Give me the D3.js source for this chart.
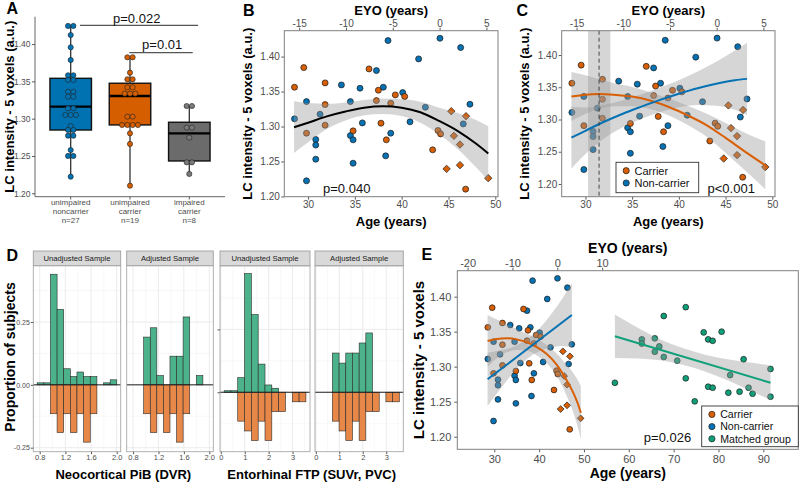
<!DOCTYPE html>
<html><head><meta charset="utf-8">
<script src="https://cdn.jsdelivr.net/npm/d3@7"></script>
<style>html,body{margin:0;padding:0;background:#fff;}svg{display:block;}</style>
</head><body>
<svg id="chart" width="800" height="485" xmlns="http://www.w3.org/2000/svg"></svg>
<script>
const FONT = '"Liberation Sans", Arial, Helvetica, sans-serif';
// ================= DATA =================
// Panel A (box plots + dot plot)
const aGroups = ["unimpaired noncarrier", "unimpaired carrier", "impaired carrier"];
const aLabelLines = [["unimpaired","noncarrier","n=27"],["unimpaired","carrier","n=19"],["impaired","carrier","n=8"]];
const aQ1 = [1.2848, 1.2916, 1.2433];
const aMedian = [1.3161, 1.3304, 1.2804];
const aQ3 = [1.3541, 1.3475, 1.2952];
const aWhiskerLow = [1.2223, 1.2102, 1.2259];
const aWhiskerHigh = [1.4243, 1.3823, 1.3170];
const aDotsNoncarrier = [1.4243,1.4243,1.4122,1.3957,1.3787,1.3582,1.3582,1.3519,1.3519,1.3362,1.3362,1.3295,1.3295,1.3139,1.3139,1.3050,1.3050,1.3050,1.2902,1.2849,1.2849,1.2772,1.2772,1.2580,1.2500,1.2500,1.2223];
const aDotsCarrier = [1.3823,1.3823,1.3617,1.3528,1.3528,1.3420,1.3420,1.3336,1.3336,1.3336,1.3027,1.3027,1.2916,1.2916,1.2916,1.2916,1.2804,1.2661,1.2102];
const aDotsImpaired = [1.3170,1.3170,1.2880,1.2880,1.2746,1.2415,1.2415,1.2259];
const aPLabels = ["p=0.022", "p=0.01"];

// Individuals (panels B, C, E)
const carrierAge = [28.55,29.54,29.83,31.82,31.82,31.82,34.81,36.51,37.30,37.51,37.79,38.36,38.83,39.32,40.32,43.31,43.88,44.16,46.83,44.80,45.30,45.58,46.23,46.23,46.87,49.25];
const carrierLC  = [1.3562,1.3843,1.2905,1.3624,1.3314,1.3019,1.2938,1.3824,1.3371,1.3519,1.3048,1.2810,1.3333,1.3452,1.3429,1.2667,1.2943,1.2895,1.2105,1.2395,1.3219,1.2867,1.2743,1.2448,1.3148,1.2262];
const carrierImpaired = [0,0,0,0,0,0,0,0,0,0,0,0,0,0,0,0,0,0,0,1,1,1,1,1,1,1];
const nonAge = [28.55,29.83,29.83,30.82,30.82,30.82,31.28,33.56,34.52,34.52,34.81,34.81,35.55,35.80,37.30,38.04,38.29,38.54,38.83,40.11,40.89,41.81,42.53,44.09,46.30,46.58,47.29];
const nonLC  = [1.3110,1.3357,1.2224,1.2815,1.2735,1.2533,1.3176,1.3595,1.3357,1.2871,1.2810,1.2476,1.3548,1.3052,1.3800,1.3562,1.2581,1.4229,1.2905,1.3486,1.3067,1.3967,1.3276,1.4262,1.4129,1.3038,1.3319];
const matchedAge = [56.9,62.9,62.9,65.8,65.8,66.8,67.8,67.8,70.8,72.7,72.7,74.7,76.7,77.7,78.7,80.7,77.7,78.7,82.2,82.6,84.7,85.6,86.7,87.6,91.6,91.6];
const matchedLC  = [1.277,1.339,1.333,1.3405,1.3214,1.329,1.3724,1.3139,1.3086,1.385,1.2834,1.2505,1.349,1.339,1.337,1.350,1.2714,1.270,1.2629,1.288,1.2643,1.3106,1.270,1.2614,1.2967,1.2571];

// Fitted curves
const bFitAge = [28.5,30,32,34,36,38,40,42,44,46,48,49.25];
const bFitLC  = [1.299,1.3055,1.3145,1.3215,1.327,1.329,1.327,1.3205,1.308,1.2935,1.275,1.2615];
const bFitLo  = [1.262,1.2775,1.2965,1.3085,1.316,1.318,1.315,1.3055,1.289,1.2675,1.241,1.2225];
const bFitHi  = [1.336,1.3335,1.3325,1.3345,1.338,1.340,1.339,1.3355,1.327,1.3195,1.309,1.3005];

const cCarAge = [28.5,30,31.5,33,35,37,39,41,43,45,47,49.25];
const cCarLC  = [1.3355,1.3385,1.3395,1.3385,1.3355,1.329,1.319,1.306,1.291,1.2715,1.251,1.229];
const cCarLo  = [1.2975,1.3085,1.3165,1.3205,1.3205,1.316,1.306,1.291,1.273,1.2485,1.222,1.192];
const cCarHi  = [1.3735,1.3685,1.3625,1.3565,1.3505,1.342,1.332,1.321,1.309,1.2945,1.280,1.266];
const cNonAge = [28.5,30,32,34,36,38,40,42,44,46,47.3];
const cNonLC  = [1.2718,1.2825,1.2965,1.309,1.32,1.3305,1.340,1.3485,1.3555,1.361,1.363];
const cNonLo  = [1.2238,1.2465,1.2705,1.288,1.301,1.3115,1.319,1.3225,1.3215,1.315,1.307];
const cNonHi  = [1.3198,1.3185,1.3225,1.330,1.339,1.3495,1.361,1.3745,1.3895,1.407,1.419];
const cPeakBand = [30.28, 32.67];
const cPeakAge = 31.46;

const eCarAge = [28.5,30.5,32.8,35,37.2,39.5,41.7,43.9,46.1,47.6,48.7,49.3];
const eCarLC  = [1.3367,1.3396,1.3405,1.339,1.335,1.328,1.318,1.303,1.281,1.263,1.246,1.234];
const eCarLo  = [1.2997,1.3116,1.3205,1.324,1.323,1.316,1.305,1.287,1.259,1.235,1.212,1.196];
const eCarHi  = [1.3737,1.3676,1.3605,1.354,1.347,1.340,1.331,1.319,1.303,1.291,1.280,1.272];
const eNonLineAge = [28.5,47.3];
const eNonLineLC  = [1.282,1.3739];
const eNonBandAge = [28.5,31,34,37,40,43,45,47.3];
const eNonLo = [1.244,1.2652,1.2899,1.3096,1.3222,1.3279,1.3297,1.3279];
const eNonHi = [1.320,1.3232,1.3279,1.3376,1.3542,1.3779,1.3957,1.4199];
const eMatLineAge = [56.9,91.6];
const eMatLineLC  = [1.3434,1.2771];
const eMatBandAge = [56.9,62,67,72,77,82,87,91.6];
const eMatLo = [1.3124,1.3117,1.3091,1.3026,1.293,1.2805,1.2659,1.2526];
const eMatHi = [1.3744,1.3557,1.3391,1.3266,1.317,1.3105,1.3059,1.3016];

// Axis ticks
const lcTicks = [1.20,1.25,1.30,1.35,1.40];
const bcAgeTicks = [30,35,40,45,50];
const bcEyoTicks = [-15,-10,-5,0,5];
const eAgeTicks = [30,40,50,60,70,80,90];
const eEyoTicks = [-20,-10,0,10];
const eyoOffset = 44.05;

// Panel D histograms
const pibEdges = [0.76,0.864,0.967,1.071,1.174,1.278,1.381,1.485,1.588,1.692,1.795,1.899,2.002];
const pibUnadjustedNon = [0.008,0.008,0.44,0.30,0.064,0.033,0.051,0.033,0.033,0,0.008,0.02];
const pibAdjustedNon   = [0,0,0.19,0.227,0.037,0,0.114,0.114,0.27,0,0.037,0];
const pibCarrier       = [0,0,0.115,0.19,0.115,0.19,0.115,0.228,0.115,0,0,0];
const ftpEdges = [0.137,0.422,0.707,0.992,1.277,1.562,1.847,2.132,2.417,2.702,2.987,3.272,3.557];
const ftpUnadjustedNon = [0.006,0.006,0.058,0.472,0.309,0.112,0.029,0.016,0,0,0,0];
const ftpAdjustedNon   = [0,0,0.156,0.116,0.156,0.156,0.196,0.236,0,0,0,0];
const ftpCarrier       = [0,0,0.115,0.154,0.192,0.115,0.192,0.077,0.077,0,0.038,0.038];
const pibTicks = [0.8,1.2,1.6,2.0], pibMinor = [1.0,1.4,1.8];
const ftpTicks = [0,1,2,3], ftpMinor = [0.5,1.5,2.5,3.5];
const propTicks = [-0.25,0,0.25,0.5], propMinor = [-0.125,0.125,0.375];
const stripTitles = ["Unadjusted Sample","Adjusted Sample","Unadjusted Sample","Adjusted Sample"];

// ================= STYLE =================
const COL_OR = "#D85F06", COL_BL = "#0672B3", COL_GR = "#0FA07A";
const BOX_OR = "#D55E00", BOX_BL = "#0072B2";
const svg = d3.select("#chart");
svg.append("rect").attr("width",800).attr("height",485).attr("fill","#fff");

function addText(g, x, y, s, size, o = {}) {
  return g.append("text").attr("x", x).attr("y", y).text(s)
    .attr("font-family", FONT).attr("font-size", size)
    .attr("font-weight", o.bold ? "bold" : "normal")
    .attr("fill", o.fill || "#000")
    .attr("text-anchor", o.anchor || "middle");
}
function addRotText(g, x, y, s, size, o = {}) {
  return g.append("text").attr("transform", `translate(${x},${y}) rotate(-90)`).text(s)
    .attr("font-family", FONT).attr("font-size", size)
    .attr("font-weight", o.bold ? "bold" : "normal")
    .attr("fill", o.fill || "#000").attr("text-anchor", "middle");
}
function styleAxis(g, size) {
  g.attr("font-family", FONT).attr("font-size", size);
  g.select(".domain").remove();
  g.selectAll(".tick line").attr("stroke", "#333").attr("stroke-width", 0.8);
  g.selectAll(".tick text").attr("fill", "#4d4d4d");
}
function diamondPath(cx, cy, h) { return `M${cx},${cy-h}L${cx+h},${cy}L${cx},${cy+h}L${cx-h},${cy}Z`; }
const fmt2 = d => d.toFixed(2);
const fmtInt = d => String(d);

// ================= PANEL A =================
(function(){
  const g = svg.append("g");
  const xA = d3.scalePoint().domain(d3.range(aGroups.length)).range([70.7, 189.3]);
  const yA = d3.scaleLinear().domain([1.1954, 1.4367]).range([196.7, 16.7]);
  const boxFill = [BOX_BL, BOX_OR, "#6b6b6b"];
  const dotFill = [BOX_BL, BOX_OR, "#7a7a7a"];
  const boxW = 41.5;
  g.append("line").attr("x1",35).attr("x2",35).attr("y1",16.7).attr("y2",196.7).attr("stroke","#555").attr("stroke-width",0.9);
  g.append("line").attr("x1",35).attr("x2",225).attr("y1",196.7).attr("y2",196.7).attr("stroke","#555").attr("stroke-width",0.9);
  const ay = g.append("g").attr("transform","translate(35,0)")
    .call(d3.axisLeft(yA).tickValues(lcTicks).tickFormat(fmt2).tickSize(3).tickPadding(1.5));
  styleAxis(ay, 8.5);
  aGroups.forEach((_, i) => {
    g.append("line").attr("x1",xA(i)).attr("x2",xA(i)).attr("y1",196.7).attr("y2",199.5).attr("stroke","#333").attr("stroke-width",0.8);
    aLabelLines[i].forEach((s, j) => addText(g, xA(i), 205.3 + j*8.6, s, 8, {fill:"#4d4d4d"}));
    g.append("line").attr("x1",xA(i)).attr("x2",xA(i)).attr("y1",yA(aWhiskerLow[i])).attr("y2",yA(aWhiskerHigh[i]))
      .attr("stroke","#333").attr("stroke-width",1.3);
    g.append("rect").attr("x",xA(i)-boxW/2).attr("y",yA(aQ3[i])).attr("width",boxW).attr("height",yA(aQ1[i])-yA(aQ3[i]))
      .attr("fill",boxFill[i]).attr("stroke","#111").attr("stroke-width",1.4);
    g.append("line").attr("x1",xA(i)-boxW/2).attr("x2",xA(i)+boxW/2).attr("y1",yA(aMedian[i])).attr("y2",yA(aMedian[i]))
      .attr("stroke","#000").attr("stroke-width",2.3);
  });
  [aDotsNoncarrier, aDotsCarrier, aDotsImpaired].forEach((vals, i) => {
    d3.groups(vals, v => v).forEach(([v, arr]) => {
      arr.forEach((_, k) => {
        const dx = (k - (arr.length - 1) / 2) * 5.3;
        g.append("circle").attr("cx", xA(i) + dx).attr("cy", yA(v)).attr("r", 2.6)
          .attr("fill", dotFill[i]).attr("stroke", "#222").attr("stroke-width", 0.6);
      });
    });
  });
  const step = xA(1) - xA(0);
  g.append("line").attr("x1", xA(0) + 0.157*step).attr("x2", xA(2) + 0.147*step).attr("y1",25.3).attr("y2",25.3).attr("stroke","#555").attr("stroke-width",1.3);
  addText(g, (xA(0)+xA(2))/2 + 6.7, 22.6, aPLabels[0], 13, {fill:"#111"});
  g.append("line").attr("x1", xA(1) - 0.7).attr("x2", xA(2) + 3.4).attr("y1",52.7).attr("y2",52.7).attr("stroke","#555").attr("stroke-width",1.3);
  addText(g, (xA(1)+xA(2))/2 + 2.5, 48.6, aPLabels[1], 13, {fill:"#111"});
  addText(svg, 6.5, 14, "A", 16, {bold:true, anchor:"start"});
  addRotText(svg, 14, 106.7, "LC intensity - 5 voxels (a.u.)", 13, {bold:true});
})();

// ================= SCATTER HELPERS =================
function makeScatter(cfg) {
  const g = svg.append("g");
  const x = d3.scaleLinear().domain(cfg.xDomain).range(cfg.xRange);
  const y = d3.scaleLinear().domain(cfg.yDomain).range(cfg.yRange);
  const xTop = d3.scaleLinear().domain(cfg.xDomain.map(a => a - eyoOffset)).range(cfg.xRange);
  const [x0, x1] = cfg.xRange, [yb, yt] = cfg.yRange;
  const clipId = "clip" + cfg.id;
  svg.append("clipPath").attr("id", clipId).append("rect").attr("x",x0).attr("y",yt).attr("width",x1-x0).attr("height",yb-yt);
  const axB = g.append("g").attr("transform",`translate(0,${yb})`)
    .call(d3.axisBottom(x).tickValues(cfg.ageTicks).tickFormat(fmtInt).tickSize(3).tickPadding(cfg.padB));
  styleAxis(axB, cfg.tickSize);
  const axT = g.append("g").attr("transform",`translate(0,${yt})`)
    .call(d3.axisTop(xTop).tickValues(cfg.eyoTicks).tickFormat(fmtInt).tickSize(3).tickPadding(1));
  styleAxis(axT, cfg.tickSize);
  const axL = g.append("g").attr("transform",`translate(${x0},0)`)
    .call(d3.axisLeft(y).tickValues(lcTicks).tickFormat(fmt2).tickSize(3).tickPadding(cfg.padL));
  styleAxis(axL, cfg.tickSize);
  const plot = g.append("g").attr("clip-path", `url(#${clipId})`);
  return {g, plot, x, y, x0, x1, yb, yt};
}
function drawPeople(P, r, h) {
  nonAge.forEach((a, i) => {
    P.plot.append("circle").attr("cx", P.x(a)).attr("cy", P.y(nonLC[i])).attr("r", r)
      .attr("fill", COL_BL).attr("stroke", "#1a1a1a").attr("stroke-width", 0.7);
  });
  carrierAge.forEach((a, i) => {
    if (carrierImpaired[i]) {
      P.plot.append("path").attr("d", diamondPath(P.x(a), P.y(carrierLC[i]), h))
        .attr("fill", COL_OR).attr("stroke", "#1a1a1a").attr("stroke-width", 0.7);
    } else {
      P.plot.append("circle").attr("cx", P.x(a)).attr("cy", P.y(carrierLC[i])).attr("r", r)
        .attr("fill", COL_OR).attr("stroke", "#1a1a1a").attr("stroke-width", 0.7);
    }
  });
}
function drawBand(P, ages, lo, hi) {
  const area = d3.area().x((d) => P.x(d[0])).y0(d => P.y(d[1])).y1(d => P.y(d[2])).curve(d3.curveMonotoneX);
  P.plot.append("path").attr("d", area(ages.map((a, i) => [a, lo[i], hi[i]])))
    .attr("fill", "#999999").attr("fill-opacity", 0.4).attr("stroke", "none");
}
function drawFit(P, ages, vals, color, w) {
  const line = d3.line().x(d => P.x(d[0])).y(d => P.y(d[1])).curve(d3.curveMonotoneX);
  P.plot.append("path").attr("d", line(ages.map((a, i) => [a, vals[i]])))
    .attr("fill", "none").attr("stroke", color).attr("stroke-width", w).attr("stroke-linecap","butt");
}
function frame(P) {
  P.g.append("rect").attr("x", P.x0).attr("y", P.yt).attr("width", P.x1 - P.x0).attr("height", P.yb - P.yt)
    .attr("fill", "none").attr("stroke", "#7f7f7f").attr("stroke-width", 1);
}
function legend(g, x, y, w, h, items, size, rowH) {
  g.append("rect").attr("x", x).attr("y", y).attr("width", w).attr("height", h)
    .attr("fill", "#fff").attr("stroke", "#333").attr("stroke-width", 0.9);
  items.forEach((it, i) => {
    const cy = y + 8.4 + i * rowH;
    g.append("circle").attr("cx", x + 10.2).attr("cy", cy).attr("r", 3.1)
      .attr("fill", it[1]).attr("stroke", "#1a1a1a").attr("stroke-width", 0.7);
    addText(g, x + 18.5, cy + size*0.36, it[0], size, {anchor:"start", fill:"#111"});
  });
}

// ================= PANEL B =================
(function(){
  const P = makeScatter({id:"B", xDomain:[27.46,50.29], xRange:[284.3,498], yDomain:[1.1997,1.437], yRange:[196.7,30.7],
    ageTicks:bcAgeTicks, eyoTicks:bcEyoTicks, tickSize:10, padB:1.5, padL:1.5});
  drawPeople(P, 3.0, 3.7);
  drawBand(P, bFitAge, bFitLo, bFitHi);
  drawFit(P, bFitAge, bFitLC, "#000", 2);
  frame(P);
  addText(P.g, 346.7, 192.7, "p=0.040", 13, {fill:"#111"});
  addText(svg, 243, 15.5, "B", 16, {bold:true, anchor:"start"});
  addRotText(svg, 251.5, 113.7, "LC intensity - 5 voxels (a.u.)", 13, {bold:true});
  addText(svg, 391.2, 15, "EYO (years)", 13, {bold:true});
  addText(svg, 391.2, 226, "Age (years)", 13, {bold:true});
})();

// ================= PANEL C =================
(function(){
  const P = makeScatter({id:"C", xDomain:[27.46,50.29], xRange:[561.7,775], yDomain:[1.1803,1.4377], yRange:[196.7,30.7],
    ageTicks:bcAgeTicks, eyoTicks:bcEyoTicks, tickSize:10, padB:1.5, padL:1.5});
  drawPeople(P, 3.0, 3.7);
  P.plot.append("rect").attr("x", P.x(cPeakBand[0])).attr("y", P.yt).attr("width", P.x(cPeakBand[1]) - P.x(cPeakBand[0]))
    .attr("height", P.yb - P.yt).attr("fill", "#999999").attr("fill-opacity", 0.4);
  drawBand(P, cCarAge, cCarLo, cCarHi);
  drawBand(P, cNonAge, cNonLo, cNonHi);
  drawFit(P, cCarAge, cCarLC, COL_OR, 2);
  drawFit(P, cNonAge, cNonLC, COL_BL, 2);
  P.plot.append("line").attr("x1", P.x(cPeakAge)).attr("x2", P.x(cPeakAge)).attr("y1", P.yt).attr("y2", P.yb)
    .attr("stroke", "#333").attr("stroke-width", 0.9).attr("stroke-dasharray", "4,3");
  frame(P);
  legend(P.g, 616, 162.3, 82.7, 30.4, [["Carrier", COL_OR], ["Non-carrier", COL_BL]], 11, 12.3);
  addText(P.g, 731.2, 192.7, "p<0.001", 13, {fill:"#111"});
  addText(svg, 516.5, 15.5, "C", 16, {bold:true, anchor:"start"});
  addRotText(svg, 529, 113.7, "LC intensity - 5 voxels (a.u.)", 13, {bold:true});
  addText(svg, 668.3, 15, "EYO (years)", 13, {bold:true});
  addText(svg, 668.3, 226, "Age (years)", 13, {bold:true});
})();

// ================= PANEL D =================
(function(){
  const g = svg.append("g");
  const pibX = [0.70, 2.063], ftpX = [-0.034, 3.728];
  const pibY = [-0.266, 0.474], ftpY = [-0.2365, 0.5035];
  const facets = [
    {edges:pibEdges, non:pibUnadjustedNon, car:pibCarrier, xd:pibX, yd:pibY, xr:[33.3,120.7], ticks:pibTicks, minor:pibMinor},
    {edges:pibEdges, non:pibAdjustedNon,   car:pibCarrier, xd:pibX, yd:pibY, xr:[126.7,213.3], ticks:pibTicks, minor:pibMinor},
    {edges:ftpEdges, non:ftpUnadjustedNon, car:ftpCarrier, xd:ftpX, yd:ftpY, xr:[220,310], ticks:ftpTicks, minor:ftpMinor},
    {edges:ftpEdges, non:ftpAdjustedNon,   car:ftpCarrier, xd:ftpX, yd:ftpY, xr:[315,403.3], ticks:ftpTicks, minor:ftpMinor}
  ];
  const top = 265.7, bot = 451.7;
  facets.forEach((f, k) => {
    const x = d3.scaleLinear().domain(f.xd).range(f.xr);
    const y = d3.scaleLinear().domain(f.yd).range([bot, top]);
    const [x0, x1] = f.xr;
    g.append("rect").attr("x",x0).attr("y",top).attr("width",x1-x0).attr("height",bot-top).attr("fill","#fff");
    const grid = (vals, vert, col, w) => vals.forEach(v => {
      if (vert) { const px = x(v); if (px < x0 || px > x1) return;
        g.append("line").attr("x1",px).attr("x2",px).attr("y1",top).attr("y2",bot).attr("stroke",col).attr("stroke-width",w); }
      else { const py = y(v); if (py < top || py > bot) return;
        g.append("line").attr("x1",x0).attr("x2",x1).attr("y1",py).attr("y2",py).attr("stroke",col).attr("stroke-width",w); }
    });
    grid(f.minor, true, "#f4f4f4", 0.6);
    grid(propMinor, false, "#f4f4f4", 0.6);
    grid(f.ticks, true, "#e9e9e9", 0.9);
    grid(propTicks, false, "#e9e9e9", 0.9);
    f.non.forEach((v, i) => {
      if (!v) return;
      g.append("rect").attr("x", x(f.edges[i])).attr("width", x(f.edges[i+1]) - x(f.edges[i]))
        .attr("y", y(v)).attr("height", y(0) - y(v))
        .attr("fill", "#4BB28B").attr("stroke", "#2b2b2b").attr("stroke-width", 0.6);
    });
    f.car.forEach((v, i) => {
      if (!v) return;
      g.append("rect").attr("x", x(f.edges[i])).attr("width", x(f.edges[i+1]) - x(f.edges[i]))
        .attr("y", y(0)).attr("height", y(-v) - y(0))
        .attr("fill", "#E78748").attr("stroke", "#2b2b2b").attr("stroke-width", 0.6);
    });
    g.append("line").attr("x1",x0).attr("x2",x1).attr("y1",y(0)).attr("y2",y(0)).attr("stroke","#222").attr("stroke-width",1);
    g.append("rect").attr("x",x0).attr("y",top).attr("width",x1-x0).attr("height",bot-top)
      .attr("fill","none").attr("stroke","#a8a8a8").attr("stroke-width",0.9);
    g.append("rect").attr("x",x0).attr("y",251).attr("width",x1-x0).attr("height",top-251)
      .attr("fill","#d9d9d9").attr("stroke","#a0a0a0").attr("stroke-width",0.9);
    addText(g, (x0+x1)/2, 261.2, stripTitles[k], 7.7, {fill:"#1a1a1a"});
    const ax = g.append("g").attr("transform",`translate(0,${bot})`)
      .call(d3.axisBottom(x).tickValues(f.ticks).tickFormat(d => (f.xd === pibX ? d.toFixed(1) : String(d))).tickSize(2.5).tickPadding(0.5));
    styleAxis(ax, 7.5);
    if (k === 0) {
      const ay = g.append("g").attr("transform",`translate(${x0},0)`)
        .call(d3.axisLeft(y).tickValues([-0.25,0,0.25]).tickFormat(fmt2).tickSize(2.5).tickPadding(1));
      styleAxis(ay, 7);
    }
    if (k === 2) {
      const ay = g.append("g").attr("transform",`translate(${x0},0)`)
        .call(d3.axisLeft(y).tickValues([0,0.25]).tickFormat("").tickSize(2.5));
      styleAxis(ay, 7);
    }
  });
  addText(svg, 6.5, 260.5, "D", 16, {bold:true, anchor:"start"});
  addRotText(svg, 14.5, 357, "Proportion of subjects", 14, {bold:true});
  addText(svg, 123.3, 479, "Neocortical PiB (DVR)", 13, {bold:true});
  addText(svg, 311.7, 479, "Entorhinal FTP (SUVr, PVC)", 13, {bold:true});
})();

// ================= PANEL E =================
(function(){
  const P = makeScatter({id:"E", xDomain:[21.75,97.8], xRange:[457.3,798.3], yDomain:[1.182,1.4371], yRange:[449.3,270.7],
    ageTicks:eAgeTicks, eyoTicks:eEyoTicks, tickSize:11, padB:3, padL:3});
  drawPeople(P, 2.9, 3.4);
  matchedAge.forEach((a, i) => {
    P.plot.append("circle").attr("cx", P.x(a)).attr("cy", P.y(matchedLC[i])).attr("r", 2.9)
      .attr("fill", COL_GR).attr("stroke", "#1a1a1a").attr("stroke-width", 0.7);
  });
  drawBand(P, eCarAge, eCarLo, eCarHi);
  drawBand(P, eNonBandAge, eNonLo, eNonHi);
  drawBand(P, eMatBandAge, eMatLo, eMatHi);
  drawFit(P, eCarAge, eCarLC, COL_OR, 2);
  drawFit(P, eNonLineAge, eNonLineLC, COL_BL, 2);
  drawFit(P, eMatLineAge, eMatLineLC, COL_GR, 2);
  frame(P);
  legend(P.g, 701.7, 406, 96.6, 40.7, [["Carrier", COL_OR], ["Non-carrier", COL_BL], ["Matched group", COL_GR]], 10.6, 12.2);
  addText(P.g, 667.5, 442.3, "p=0.026", 13, {fill:"#111"});
  addText(svg, 421.5, 260, "E", 16, {bold:true, anchor:"start"});
  addRotText(svg, 423.5, 360, "LC intensity - 5 voxels", 15, {bold:true});
  addText(svg, 627.8, 252.5, "EYO (years)", 14, {bold:true});
  addText(svg, 627.8, 478, "Age (years)", 14, {bold:true});
})();
</script>
</body></html>
